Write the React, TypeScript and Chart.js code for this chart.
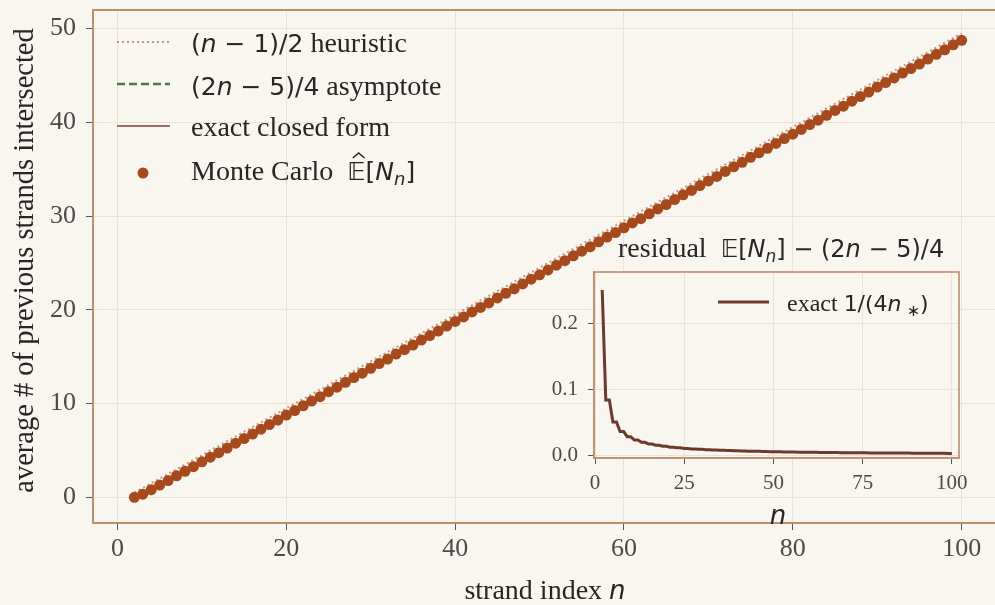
import React, { useEffect, useRef } from "react";
import { Chart, registerables } from "chart.js";
Chart.register(...registerables);

// strand index n = 2..100
const N_INDEX: number[] = Array.from({ length: 99 }, (_, i) => i + 2);

// exact closed form E[N_n]
const EXACT: number[] = [
  0.0, 0.33, 0.83, 1.3, 1.8, 2.29, 2.79, 3.28, 3.78, 4.27,
  4.77, 5.27, 5.77, 6.27, 6.77, 7.26, 7.76, 8.26, 8.76, 9.26,
  9.76, 10.26, 10.76, 11.26, 11.76, 12.26, 12.76, 13.26, 13.76, 14.26,
  14.76, 15.26, 15.76, 16.26, 16.76, 17.26, 17.76, 18.26, 18.76, 19.26,
  19.76, 20.26, 20.76, 21.26, 21.76, 22.26, 22.76, 23.26, 23.76, 24.25,
  24.75, 25.25, 25.75, 26.25, 26.75, 27.25, 27.75, 28.25, 28.75, 29.25,
  29.75, 30.25, 30.75, 31.25, 31.75, 32.25, 32.75, 33.25, 33.75, 34.25,
  34.75, 35.25, 35.75, 36.25, 36.75, 37.25, 37.75, 38.25, 38.75, 39.25,
  39.75, 40.25, 40.75, 41.25, 41.75, 42.25, 42.75, 43.25, 43.75, 44.25,
  44.75, 45.25, 45.75, 46.25, 46.75, 47.25, 47.75, 48.25, 48.75,
];

// Monte Carlo estimates
const MONTE_CARLO: number[] = [
  0.0, 0.34, 0.82, 1.31, 1.79, 2.3, 2.78, 3.27, 3.79, 4.28,
  4.76, 5.26, 5.78, 6.27, 6.75, 7.27, 7.77, 8.25, 8.77, 9.25,
  9.77, 10.27, 10.74, 11.27, 11.75, 12.27, 12.77, 13.24, 13.77, 14.27,
  14.75, 15.28, 15.75, 16.25, 16.78, 17.26, 17.74, 18.27, 18.77, 19.25,
  19.78, 20.26, 20.74, 21.27, 21.77, 22.24, 22.77, 23.27, 23.74, 24.26,
  24.77, 25.24, 25.76, 26.26, 26.73, 27.26, 27.77, 28.24, 28.76, 29.27,
  29.73, 30.25, 30.77, 31.24, 31.76, 32.27, 32.74, 33.26, 33.75, 34.23,
  34.77, 35.26, 35.74, 36.27, 36.75, 37.23, 37.76, 38.27, 38.74, 39.25,
  39.77, 40.24, 40.76, 41.27, 41.73, 42.26, 42.75, 43.24, 43.77, 44.25,
  44.74, 45.27, 45.75, 46.23, 46.76, 47.26, 47.74, 48.27, 48.75,
];

// residual E[N_n] - (2n-5)/4 = 1/(4 n_*)
const RESIDUAL: number[] = [
  0.25, 0.0833, 0.0833, 0.05, 0.05, 0.0357, 0.0357, 0.0278, 0.0278, 0.0227,
  0.0227, 0.0192, 0.0192, 0.0167, 0.0167, 0.0147, 0.0147, 0.0132, 0.0132, 0.0119,
  0.0119, 0.0109, 0.0109, 0.01, 0.01, 0.0093, 0.0093, 0.0086, 0.0086, 0.0081,
  0.0081, 0.0076, 0.0076, 0.0071, 0.0071, 0.0068, 0.0068, 0.0064, 0.0064, 0.0061,
  0.0061, 0.0058, 0.0058, 0.0056, 0.0056, 0.0053, 0.0053, 0.0051, 0.0051, 0.0049,
  0.0049, 0.0047, 0.0047, 0.0045, 0.0045, 0.0044, 0.0044, 0.0042, 0.0042, 0.0041,
  0.0041, 0.004, 0.004, 0.0038, 0.0038, 0.0037, 0.0037, 0.0036, 0.0036, 0.0035,
  0.0035, 0.0034, 0.0034, 0.0033, 0.0033, 0.0032, 0.0032, 0.0032, 0.0032, 0.0031,
  0.0031, 0.003, 0.003, 0.0029, 0.0029, 0.0029, 0.0029, 0.0028, 0.0028, 0.0027,
  0.0027, 0.0027, 0.0027, 0.0026, 0.0026, 0.0026, 0.0026, 0.0025, 0.0025,
];

// straight reference lines: endpoints [n, value]
const HEURISTIC_ENDS: number[][] = [[2, 0.5], [100, 49.5]];
const ASYMPTOTE_ENDS: number[][] = [[2, -0.25], [100, 48.75]];

const MAIN_X_TICKS = [0, 20, 40, 60, 80, 100];
const MAIN_Y_TICKS = [0, 10, 20, 30, 40, 50];
const INSET_X_TICKS = [0, 25, 50, 75, 100];
const INSET_Y_TICKS = [0, 0.1, 0.2];

const BG = "#f9f5ef";
const SPINE = "#b98f6d";
const GRID = "#ebe1d5";
const TICK_MARK = "#555555";
const TICK_LABEL = "#4a4a4a";
const TEXT = "#262626";
const DOT = "#a64a1e";
const EXACT_C = "#9c6f66";
const HEUR_C = "#c29b7e";
const ASYM_C = "#4b7a42";
const INSET_C = "#6b3a2d";

const SERIF = '"Liberation Serif", "Times New Roman", serif';
const SANS = '"DejaVu Sans", sans-serif';

type Seg = { t: string; f: string; dy?: number; hat?: boolean };

function richWidth(ctx: CanvasRenderingContext2D, segs: Seg[]) {
  let w = 0;
  for (const s of segs) {
    ctx.font = s.f;
    w += ctx.measureText(s.t).width;
  }
  return w;
}

function drawRich(ctx: CanvasRenderingContext2D, segs: Seg[], x: number, y: number, align: "left" | "center" = "left") {
  const w = richWidth(ctx, segs);
  let cx = align === "center" ? x - w / 2 : x;
  ctx.textAlign = "left";
  ctx.textBaseline = "alphabetic";
  for (const s of segs) {
    ctx.font = s.f;
    const sw = ctx.measureText(s.t).width;
    ctx.fillText(s.t, cx, y + (s.dy || 0));
    if (s.hat) {
      ctx.save();
      ctx.strokeStyle = ctx.fillStyle as string;
      ctx.lineWidth = 1.5;
      ctx.beginPath();
      const top = y - 22;
      ctx.moveTo(cx + sw * 0.3, top);
      ctx.lineTo(cx + sw * 0.62, top - 5);
      ctx.lineTo(cx + sw * 0.94, top);
      ctx.stroke();
      ctx.restore();
    }
    cx += sw;
  }
}

const sv = (size: number) => `${size}px ${SERIF}`;
const ss = (size: number) => `${size}px ${SANS}`;
const si = (size: number) => `italic ${size}px ${SANS}`;

const bgPlugin = {
  id: "bgfill",
  beforeDraw(chart: any) {
    const ctx = chart.ctx;
    ctx.save();
    ctx.fillStyle = BG;
    ctx.fillRect(0, 0, chart.width, chart.height);
    ctx.restore();
  },
};

const insetBgPlugin = {
  id: "insetbg",
  beforeDraw(chart: any) {
    const ctx = chart.ctx;
    const a = chart.chartArea;
    ctx.save();
    ctx.fillStyle = BG;
    ctx.fillRect(a.left, a.top, a.right - a.left, a.bottom - a.top);
    ctx.restore();
  },
};

const frameOf = (width: number) => ({
  id: "frame" + String(width).replace(".", "_"),
  afterDraw(chart: any) {
    const ctx = chart.ctx;
    const a = chart.chartArea;
    ctx.save();
    ctx.strokeStyle = SPINE;
    ctx.lineWidth = width;
    ctx.strokeRect(a.left, a.top, a.right - a.left, a.bottom - a.top);
    ctx.restore();
  },
});

const mainDecor = {
  id: "mainDecor",
  afterDraw(chart: any) {
    const ctx: CanvasRenderingContext2D = chart.ctx;
    const a = chart.chartArea;
    ctx.save();
    // legend
    const lx0 = 117, lx1 = 170, tx = 191;
    ctx.strokeStyle = HEUR_C;
    ctx.lineWidth = 2;
    ctx.setLineDash([2, 3]);
    ctx.beginPath(); ctx.moveTo(lx0, 42); ctx.lineTo(lx1, 42); ctx.stroke();
    ctx.strokeStyle = ASYM_C;
    ctx.lineWidth = 2.5;
    ctx.setLineDash([8, 4]);
    ctx.beginPath(); ctx.moveTo(lx0, 84); ctx.lineTo(lx1, 84); ctx.stroke();
    ctx.strokeStyle = EXACT_C;
    ctx.lineWidth = 2;
    ctx.setLineDash([]);
    ctx.beginPath(); ctx.moveTo(lx0, 126); ctx.lineTo(lx1, 126); ctx.stroke();
    ctx.fillStyle = DOT;
    ctx.beginPath(); ctx.arc(143, 173, 5.5, 0, Math.PI * 2); ctx.fill();

    ctx.fillStyle = TEXT;
    drawRich(ctx, [
      { t: "(", f: ss(25) }, { t: "n", f: si(25) }, { t: " − 1)/2", f: ss(25) }, { t: " heuristic", f: sv(28) },
    ], tx, 52);
    drawRich(ctx, [
      { t: "(2", f: ss(25) }, { t: "n", f: si(25) }, { t: " − 5)/4", f: ss(25) }, { t: " asymptote", f: sv(28) },
    ], tx, 95);
    drawRich(ctx, [{ t: "exact closed form", f: sv(28) }], tx, 136);
    drawRich(ctx, [
      { t: "Monte Carlo  ", f: sv(28) }, { t: "𝔼", f: ss(25), hat: true }, { t: "[", f: ss(25) },
      { t: "N", f: si(25) }, { t: "n", f: si(18), dy: 5 }, { t: "]", f: ss(25) },
    ], tx, 180);

    // x title
    drawRich(ctx, [{ t: "strand index ", f: sv(28) }, { t: "n", f: si(26) }], (a.left + a.right) / 2 - 3, 599, "center");

    // y title
    ctx.translate(33, (a.top + a.bottom) / 2 - 6);
    ctx.rotate(-Math.PI / 2);
    ctx.font = sv(28.5);
    ctx.textAlign = "center";
    ctx.textBaseline = "alphabetic";
    ctx.fillText("average # of previous strands intersected", 0, 0);
    ctx.restore();
  },
};

const insetDecor = {
  id: "insetDecor",
  afterDraw(chart: any) {
    const ctx: CanvasRenderingContext2D = chart.ctx;
    ctx.save();
    ctx.fillStyle = TEXT;
    drawRich(ctx, [
      { t: "residual  ", f: sv(28) }, { t: "𝔼[", f: ss(24) }, { t: "N", f: si(24) }, { t: "n", f: si(17), dy: 5 },
      { t: "] − (2", f: ss(24) }, { t: "n", f: si(24) }, { t: " − 5)/4", f: ss(24) },
    ], 618, 257);
    ctx.strokeStyle = INSET_C;
    ctx.lineWidth = 3;
    ctx.beginPath(); ctx.moveTo(718, 302); ctx.lineTo(769, 302); ctx.stroke();
    drawRich(ctx, [
      { t: "exact ", f: sv(24) }, { t: "1/(4", f: ss(22) }, { t: "n", f: si(22) }, { t: " ∗", f: ss(16), dy: 5 }, { t: ")", f: ss(22) },
    ], 787, 311);
    drawRich(ctx, [{ t: "n", f: si(26) }], 778, 524, "center");
    ctx.restore();
  },
};

export default function App() {
  const mainRef = useRef<HTMLCanvasElement>(null);
  const insetRef = useRef<HTMLCanvasElement>(null);

  useEffect(() => {
    const mainCanvas = mainRef.current!;
    const insetCanvas = insetRef.current!;

    const fitX = (h: number) => (s: any) => { s.height = h; s.paddingLeft = 0; s.paddingRight = 0; };
    const fitY = (w: number) => (s: any) => { s.width = w; s.paddingTop = 0; s.paddingBottom = 0; };

    const main = new Chart(mainCanvas, {
      type: "line",
      data: {
        datasets: [
          {
            label: "Monte Carlo",
            data: N_INDEX.map((n, i) => ({ x: n, y: MONTE_CARLO[i] })),
            showLine: false,
            pointRadius: 5.5,
            pointHoverRadius: 5.5,
            pointBackgroundColor: DOT,
            pointBorderWidth: 0,
            borderColor: DOT,
            order: 0,
          },
          {
            label: "exact closed form",
            data: N_INDEX.map((n, i) => ({ x: n, y: EXACT[i] })),
            borderColor: EXACT_C,
            borderWidth: 2,
            pointRadius: 0,
            order: 1,
          },
          {
            label: "(2n-5)/4 asymptote",
            data: ASYMPTOTE_ENDS.map((p) => ({ x: p[0], y: p[1] })),
            borderColor: ASYM_C,
            borderWidth: 2.5,
            borderDash: [8, 4],
            pointRadius: 0,
            order: 2,
          },
          {
            label: "(n-1)/2 heuristic",
            data: HEURISTIC_ENDS.map((p) => ({ x: p[0], y: p[1] })),
            borderColor: HEUR_C,
            borderWidth: 2,
            borderDash: [2, 3],
            pointRadius: 0,
            order: 3,
          },
        ],
      },
      options: {
        responsive: false,
        animation: false,
        events: [],
        layout: { padding: { top: 10, right: 7, left: 0, bottom: 0 } },
        plugins: { legend: { display: false }, tooltip: { enabled: false } },
        scales: {
          x: {
            type: "linear",
            min: -2.9,
            max: 104.9,
            afterFit: fitX(82),
            afterBuildTicks: (s: any) => { s.ticks = MAIN_X_TICKS.map((v) => ({ value: v })); },
            grid: { color: GRID, tickColor: TICK_MARK, tickLength: 7, lineWidth: 1 },
            border: { color: SPINE, width: 2 },
            ticks: { font: { family: SERIF, size: 26 }, color: TICK_LABEL, padding: 4, maxRotation: 0 },
          },
          y: {
            type: "linear",
            min: -2.74,
            max: 51.99,
            afterFit: fitY(93),
            afterBuildTicks: (s: any) => { s.ticks = MAIN_Y_TICKS.map((v) => ({ value: v })); },
            grid: { color: GRID, tickColor: TICK_MARK, tickLength: 7, lineWidth: 1 },
            border: { color: SPINE, width: 2 },
            ticks: { font: { family: SERIF, size: 26 }, color: TICK_LABEL, padding: 10 },
          },
        },
      },
      plugins: [bgPlugin, frameOf(2), mainDecor],
    } as any);

    const inset = new Chart(insetCanvas, {
      type: "line",
      data: {
        datasets: [
          {
            label: "exact 1/(4n*)",
            data: N_INDEX.map((n, i) => ({ x: n, y: RESIDUAL[i] })),
            borderColor: INSET_C,
            borderWidth: 3,
            pointRadius: 0,
          },
        ],
      },
      options: {
        responsive: false,
        animation: false,
        events: [],
        layout: { padding: { top: 272, right: 51, left: 0, bottom: 0 } },
        plugins: { legend: { display: false }, tooltip: { enabled: false } },
        scales: {
          x: {
            type: "linear",
            min: -0.3,
            max: 102,
            afterFit: fitX(147),
            afterBuildTicks: (s: any) => { s.ticks = INSET_X_TICKS.map((v) => ({ value: v })); },
            grid: { color: GRID, tickColor: TICK_MARK, tickLength: 6, lineWidth: 1 },
            border: { color: SPINE, width: 1.6 },
            ticks: { font: { family: SERIF, size: 21 }, color: TICK_LABEL, padding: 7, maxRotation: 0 },
          },
          y: {
            type: "linear",
            min: -0.0045,
            max: 0.2773,
            afterFit: fitY(594),
            afterBuildTicks: (s: any) => { s.ticks = INSET_Y_TICKS.map((v) => ({ value: v })); },
            grid: { color: GRID, tickColor: TICK_MARK, tickLength: 6, lineWidth: 1 },
            border: { color: SPINE, width: 1.6 },
            ticks: {
              font: { family: SERIF, size: 21 },
              color: TICK_LABEL,
              padding: 10,
              callback: (v: any) => Number(v).toFixed(1),
            },
          },
        },
      },
      plugins: [insetBgPlugin, frameOf(1.6), insetDecor],
    } as any);

    return () => {
      main.destroy();
      inset.destroy();
    };
  }, []);

  const canvasStyle: React.CSSProperties = { position: "absolute", left: 0, top: 0, width: 1010, height: 605, display: "block" };

  return (
    <div style={{ position: "fixed", left: 0, top: 0, width: 995, height: 605, overflow: "hidden", background: BG }}>
      <canvas ref={mainRef} width={1010} height={605} style={canvasStyle} />
      <canvas ref={insetRef} width={1010} height={605} style={canvasStyle} />
    </div>
  );
}
